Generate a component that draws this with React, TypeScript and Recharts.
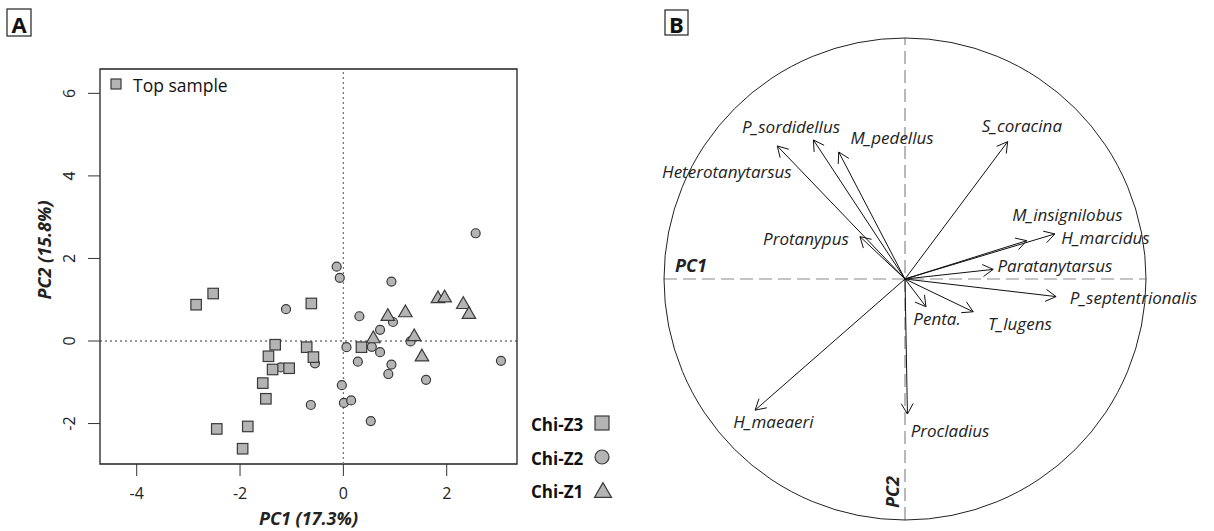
import React from 'react';
import { ReferenceArea, ReferenceLine, Scatter, ScatterChart, XAxis, YAxis } from 'recharts';

// Panel A: sample scores on PC1 / PC2
const chiZ3 = [
  [-2.85, 0.88], [-2.52, 1.15], [-0.62, 0.91], [-1.32, -0.09], [-0.71, -0.15],
  [-1.45, -0.37], [-0.58, -0.39], [-1.37, -0.69], [-1.05, -0.66], [-1.56, -1.02],
  [-1.5, -1.4], [-2.45, -2.13], [-1.85, -2.07], [-1.95, -2.61], [0.35, -0.15],
];
const chiZ2 = [
  [-0.13, 1.8], [-0.07, 1.53], [-1.11, 0.77], [0.06, -0.15], [-1.21, -0.64],
  [-0.55, -0.54], [-0.03, -1.07], [-0.63, -1.55], [0.01, -1.5], [2.56, 2.61],
  [0.93, 1.44], [0.31, 0.6], [0.71, 0.27], [0.96, 0.46], [0.55, -0.14],
  [0.71, -0.27], [1.3, -0.01], [0.28, -0.5], [0.93, -0.57], [0.87, -0.8],
  [1.6, -0.94], [3.05, -0.48], [0.15, -1.44], [0.53, -1.94],
];
const chiZ1 = [
  [1.83, 1.07], [1.96, 1.09], [2.32, 0.93], [2.43, 0.69], [1.2, 0.73],
  [0.86, 0.64], [0.58, 0.1], [1.37, 0.15], [1.52, -0.34],
];
const xTicks = [-4, -2, 0, 2];
const yTicks = [-2, 0, 2, 4, 6];
const xDomain = [-4.71, 3.36];
const yDomain = [-2.98, 6.59];

// Panel B: variable loadings (correlation circle)
const species = [
  'P_sordidellus', 'Heterotanytarsus', 'M_pedellus', 'Protanypus', 'S_coracina',
  'M_insignilobus', 'H_marcidus', 'Paratanytarsus', 'P_septentrionalis', 'Penta.',
  'T_lugens', 'H_maeaeri', 'Procladius',
];
const loadPC1 = [-0.38, -0.53, -0.275, -0.187, 0.426, 0.505, 0.622, 0.366, 0.627, 0.087, 0.283, -0.622, 0.01];
const loadPC2 = [0.577, 0.552, 0.527, 0.176, 0.57, 0.159, 0.187, 0.04, -0.073, -0.115, -0.136, -0.544, -0.56];
const labelPC1 = [-0.473, -0.739, -0.054, -0.411, 0.485, 0.674, 0.832, 0.622, 0.948, 0.133, 0.477, -0.546, 0.187];
const labelPC2 = [0.631, 0.444, 0.589, 0.17, 0.639, 0.266, 0.174, 0.058, -0.075, -0.162, -0.183, -0.593, -0.627];

const FILL = '#b4b4b4';
const EDGE = '#3a3a3a';
const FONT = '"Open Sans", sans-serif';

const toPoints = (arr: number[][]) => arr.map(([x, y]) => ({ x, y }));

function Square({ cx, cy, side = 10.5 }: any) {
  return <rect x={cx - side / 2} y={cy - side / 2} width={side} height={side} fill={FILL} stroke={EDGE} strokeWidth={1.2} />;
}
function Dot({ cx, cy, rad = 4.5 }: any) {
  return <circle cx={cx} cy={cy} r={rad} fill={FILL} stroke={EDGE} strokeWidth={1.2} />;
}
function Tri({ cx, cy, tw = 13.5 }: any) {
  const h = tw * 0.87;
  const pts = `${cx},${cy - h / 2} ${cx - tw / 2},${cy + h / 2} ${cx + tw / 2},${cy + h / 2}`;
  return <polygon points={pts} fill={FILL} stroke={EDGE} strokeWidth={1.2} strokeLinejoin="miter" />;
}

function XTick({ x, y, payload }: any) {
  return (
    <text x={x} y={y + 15} textAnchor="middle" dominantBaseline="central" fontSize={16} fill="#222">
      {payload.value}
    </text>
  );
}
function YTick({ x, y, payload }: any) {
  const tx = x - 17;
  return (
    <text x={tx} y={y} transform={`rotate(-90 ${tx} ${y})`} textAnchor="middle" dominantBaseline="central" fontSize={16} fill="#222">
      {payload.value}
    </text>
  );
}

function XTitle({ viewBox }: any) {
  const vb = viewBox || { x: 100, y: 464, width: 417 };
  return (
    <text x={vb.x + vb.width / 2} y={vb.y + 54} textAnchor="middle" dominantBaseline="central" fontSize={18} fontWeight="bold" fontStyle="italic" fill="#222">
      PC1 (17.3%)
    </text>
  );
}
function YTitle({ viewBox }: any) {
  const vb = viewBox || { x: 0, y: 69 };
  const tx = vb.x + 44;
  const ty = 250;
  return (
    <text x={tx} y={ty} transform={`rotate(-90 ${tx} ${ty})`} textAnchor="middle" dominantBaseline="central" fontSize={18} fontWeight="bold" fontStyle="italic" fill="#222">
      PC2 (15.8%)
    </text>
  );
}

function Arrow({ x1, y1, x2, y2 }: any) {
  const a = Math.atan2(y2 - y1, x2 - x1);
  const len = 12;
  const s = Math.PI / 6;
  const l = [x2 - len * Math.cos(a - s), y2 - len * Math.sin(a - s)];
  const r = [x2 - len * Math.cos(a + s), y2 - len * Math.sin(a + s)];
  return (
    <g stroke="#111" strokeWidth={1} fill="none">
      <line x1={x1} y1={y1} x2={x2} y2={y2} />
      <polyline points={`${l[0]},${l[1]} ${x2},${y2} ${r[0]},${r[1]}`} />
    </g>
  );
}

// draws the unit circle from the segment (-1,0)-(1,0)
function UnitCircle({ x1, y1, x2 }: any) {
  return <circle cx={(x1 + x2) / 2} cy={y1} r={Math.abs(x2 - x1) / 2} fill="none" stroke="#222" strokeWidth={1} />;
}

function SpeciesLabel({ cx, cy, payload }: any) {
  return (
    <text x={cx} y={cy} textAnchor="middle" dominantBaseline="central" fontSize={17} fontStyle="italic" fill="#222">
      {payload.name}
    </text>
  );
}
function AxisName({ cx, cy, payload }: any) {
  return (
    <text x={cx} y={cy} transform={payload.rotate ? `rotate(-90 ${cx} ${cy})` : undefined} textAnchor="middle" dominantBaseline="central" fontSize={18} fontWeight="bold" fontStyle="italic" fill="#222">
      {payload.name}
    </text>
  );
}

function PanelTag({ x, y, w, h, text }: any) {
  return (
    <g>
      <rect x={x} y={y} width={w} height={h} fill="none" stroke="#222" strokeWidth={1.2} />
      <text x={x + w / 2} y={y + h / 2 + 1} textAnchor="middle" dominantBaseline="central" fontSize={22} fontWeight="bold" fill="#111">
        {text}
      </text>
    </g>
  );
}

export default function App() {
  const labels = species.map((name, i) => ({ name, x: labelPC1[i], y: labelPC2[i] }));
  const axisNames = [
    { name: 'PC1', x: -0.888, y: 0.058, rotate: false },
    { name: 'PC2', x: -0.054, y: -0.884, rotate: true },
  ];

  return (
    <div style={{ position: 'absolute', left: 0, top: 0, width: 1214, height: 531, background: '#fff', fontFamily: FONT }}>
      <div style={{ position: 'absolute', left: 0, top: 0 }}>
        <ScatterChart width={620} height={531} margin={{ top: 69, right: 103, bottom: 0, left: 0 }}>
          <XAxis
            type="number"
            dataKey="x"
            domain={xDomain}
            ticks={xTicks}
            height={67}
            axisLine={false}
            tickSize={12}
            tickLine={{ stroke: '#333' }}
            tick={<XTick />}
            label={<XTitle />}
          />
          <YAxis
            type="number"
            dataKey="y"
            domain={yDomain}
            ticks={yTicks}
            width={100}
            axisLine={false}
            tickSize={12}
            tickLine={{ stroke: '#333' }}
            tick={<YTick />}
            label={<YTitle />}
          />
          <ReferenceArea x1={xDomain[0]} x2={xDomain[1]} y1={yDomain[0]} y2={yDomain[1]} fill="none" stroke="#222" strokeWidth={1.3} ifOverflow="visible" />
          <ReferenceLine x={0} stroke="#777" strokeWidth={1.3} strokeDasharray="2 3" />
          <ReferenceLine y={0} stroke="#333" strokeWidth={1.2} strokeDasharray="2 3" />
          <Scatter data={toPoints(chiZ2)} shape={<Dot />} isAnimationActive={false} />
          <Scatter data={toPoints(chiZ1)} shape={<Tri />} isAnimationActive={false} />
          <Scatter data={toPoints(chiZ3)} shape={<Square />} isAnimationActive={false} />
        </ScatterChart>
      </div>

      <div style={{ position: 'absolute', left: 620, top: 0 }}>
        <ScatterChart width={594} height={531} margin={{ top: 38, right: 68, bottom: 11, left: 44 }} style={{ overflow: 'visible' }}>
          <XAxis type="number" dataKey="x" domain={[-1, 1]} hide />
          <YAxis type="number" dataKey="y" domain={[-1, 1]} hide />
          <ReferenceLine segment={[{ x: -1, y: 0 }, { x: 1, y: 0 }]} stroke="#8a8a8a" strokeWidth={1.2} strokeDasharray="13 6" ifOverflow="visible" />
          <ReferenceLine segment={[{ x: 0, y: -1 }, { x: 0, y: 1 }]} stroke="#8a8a8a" strokeWidth={1.2} strokeDasharray="13 6" ifOverflow="visible" />
          <ReferenceLine segment={[{ x: -1, y: 0 }, { x: 1, y: 0 }]} shape={<UnitCircle />} ifOverflow="visible" />
          {species.map((name, i) => (
            <ReferenceLine
              key={name}
              segment={[{ x: 0, y: 0 }, { x: loadPC1[i], y: loadPC2[i] }]}
              shape={<Arrow />}
              ifOverflow="visible"
            />
          ))}
          <Scatter data={labels} shape={<SpeciesLabel />} isAnimationActive={false} />
          <Scatter data={axisNames} shape={<AxisName />} isAnimationActive={false} />
        </ScatterChart>
      </div>

      <svg width={1214} height={531} style={{ position: 'absolute', left: 0, top: 0, pointerEvents: 'none' }}>
        <PanelTag x={7} y={9} w={24} h={27} text="A" />
        <PanelTag x={665} y={10} w={23} h={25} text="B" />
        <Square cx={116} cy={84} side={10} />
        <text x={133} y={85} dominantBaseline="central" fontSize={17.5} fill="#111">Top sample</text>
        <text x={531} y={424} dominantBaseline="central" fontSize={17} fontWeight="bold" fill="#111">Chi-Z3</text>
        <Square cx={602} cy={423} side={14} />
        <text x={531} y={458} dominantBaseline="central" fontSize={17} fontWeight="bold" fill="#111">Chi-Z2</text>
        <Dot cx={602} cy={457} rad={7} />
        <text x={531} y={491} dominantBaseline="central" fontSize={17} fontWeight="bold" fill="#111">Chi-Z1</text>
        <Tri cx={603} cy={490} tw={17} />
      </svg>
    </div>
  );
}
